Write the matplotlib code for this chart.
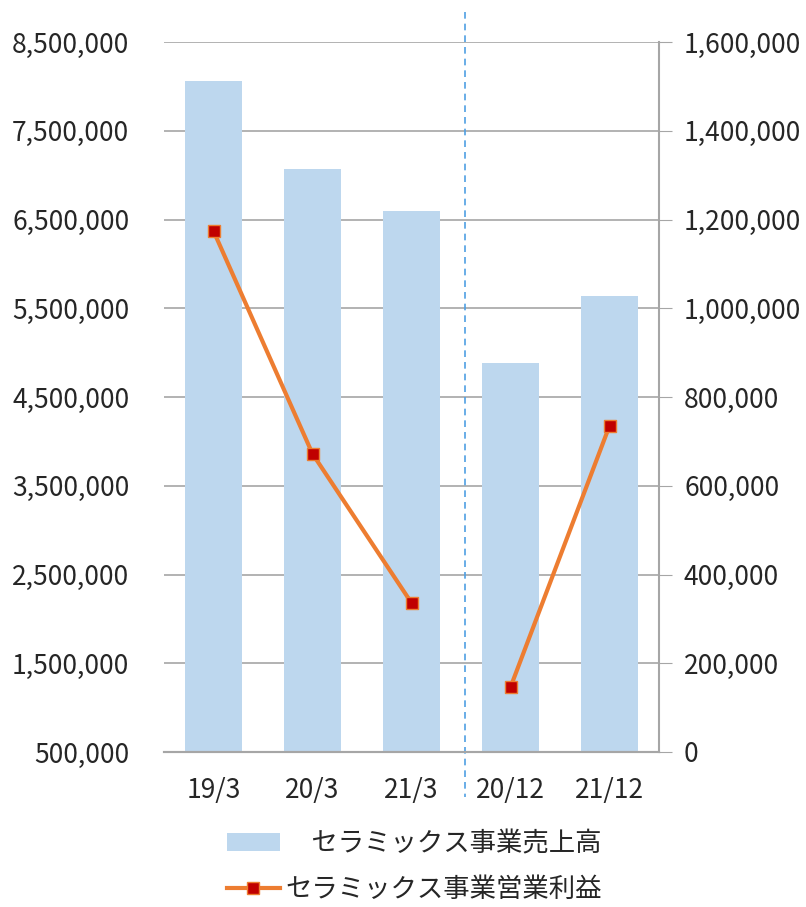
import matplotlib.pyplot as plt
from matplotlib.ticker import FuncFormatter
import numpy as np

plt.rcParams['font.family'] = ['Noto Sans CJK JP', 'DejaVu Sans']

# data
periods = ['19/3', '20/3', '21/3', '20/12', '21/12']
sales = [8060000, 7070000, 6600000, 4880000, 5640000]
profit = [1174000, 672000, 336000, 146000, 735000]
sales_label = '\u3000セラミックス事業売上高'
profit_label = 'セラミックス事業営業利益'

x = np.arange(len(periods))
grid_color = '#A6A6A6'
text_color = '#262626'

fig = plt.figure(figsize=(8.06, 9.07), dpi=100)
ax = fig.add_axes([164 / 806, 1 - 752 / 907, (659 - 164) / 806, (752 - 42) / 907])
ax2 = ax.twinx()

bars = ax.bar(x, sales, width=0.57, color='#BDD7EE', zorder=2)

# the line is split between the fiscal-year and calendar-year groups
line_style = dict(color='#ED7D31', lw=3, marker='s', markersize=9,
                  markerfacecolor='#C00000', markeredgecolor='#ED7D31', markeredgewidth=1)
line, = ax2.plot(x[:3], profit[:3], **line_style)
ax2.plot(x[3:], profit[3:], **line_style)

ax.set_xlim(-0.5, 4.5)
ax.set_ylim(500000, 8500000)
ax.set_yticks(np.arange(500000, 8500001, 1000000))
ax2.set_ylim(0, 1600000)
ax2.set_yticks(np.arange(0, 1600001, 200000))

fmt = FuncFormatter(lambda v, p: f'{int(v):,}')
ax.yaxis.set_major_formatter(fmt)
ax2.yaxis.set_major_formatter(fmt)

ax.set_xticks(x)
ax.set_xticklabels(periods)
ax.tick_params(axis='x', length=0, pad=18, labelsize=19, labelcolor=text_color)
ax.tick_params(axis='y', length=0, pad=25, labelsize=19, labelcolor=text_color)
ax2.tick_params(axis='y', length=9, color=grid_color, pad=9, labelsize=19,
                labelcolor=text_color)

ax.grid(axis='y', color=grid_color, lw=1.2, zorder=0)
ax.set_axisbelow(True)
for a in (ax, ax2):
    a.spines['top'].set_visible(False)
    a.spines['left'].set_visible(False)
    a.spines['right'].set_visible(False)
    a.spines['bottom'].set_color(grid_color)
    a.spines['bottom'].set_linewidth(1.5)
ax2.spines['right'].set_visible(True)
ax2.spines['right'].set_color(grid_color)
ax2.spines['right'].set_linewidth(1.5)

# divider between fiscal-year and calendar-year data
ax.plot([2.54, 2.54], [8500000 + 30 / 88.75 * 1e6, 500000 - 45 / 88.75 * 1e6],
        ls=(0, (4, 3)), color='#4F9FE3', lw=1.2, clip_on=False, zorder=3)

fig.legend([bars, line], [sales_label, profit_label], loc='lower center',
           bbox_to_anchor=(0.514, -0.022), ncol=1, frameon=False, fontsize=19,
           handlelength=2.0, handleheight=0.65, handletextpad=0.2, labelspacing=0.72,
           labelcolor=text_color)

fig.savefig('out.png', dpi=100)
